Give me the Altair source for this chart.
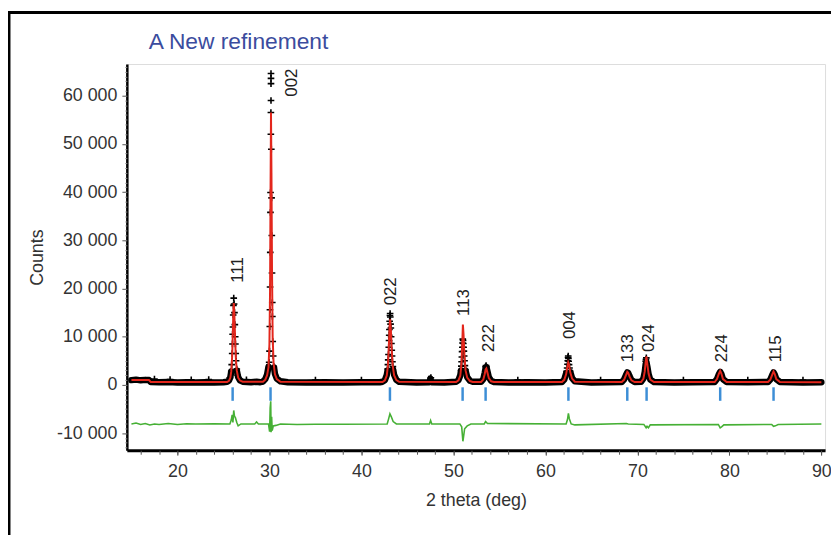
import altair as alt
import pandas as pd

FONT = "Liberation Sans"

# ---------------- data ----------------
# calculated profile (red line): (2theta, counts)
calc_points = [
    (15.0, 1000), (16.9, 1000), (17.1, 600), (25.4, 600), (25.6, 850), (25.75, 1500), (25.85, 2800), (25.95, 6000),
    (26.03, 11500), (26.09, 16000), (26.13, 17000), (26.19, 14500), (26.27, 9500), (26.35, 5500), (26.45, 3000),
    (26.6, 1500), (26.8, 900), (27.1, 650),
    (29.3, 650), (29.55, 1100), (29.75, 2000), (29.9, 3700), (30.0, 8500), (30.07, 20000), (30.12, 40000),
    (30.17, 56500), (30.22, 44000), (30.28, 24000), (30.35, 10000), (30.45, 4500), (30.6, 2200), (30.8, 1200), (31.2, 650),
    (42.3, 600), (42.55, 950), (42.75, 1900), (42.88, 4000), (42.98, 8000), (43.06, 12000), (43.12, 13600),
    (43.2, 11500), (43.3, 7000), (43.4, 4000), (43.55, 2000), (43.8, 1000), (44.1, 650),
    (50.3, 600), (50.55, 950), (50.75, 1900), (50.88, 4500), (50.97, 9000), (51.03, 12500), (51.1, 10500),
    (51.2, 6000), (51.32, 3000), (51.5, 1500), (51.8, 800), (52.1, 600),
    (53.0, 600), (53.25, 1100), (53.4, 2200), (53.5, 3200), (53.58, 3400), (53.68, 2700), (53.85, 1400), (54.1, 750), (54.4, 600),
    (61.8, 600), (62.05, 1050), (62.25, 2200), (62.38, 3700), (62.48, 4700), (62.56, 4300), (62.7, 2600), (62.9, 1300), (63.2, 650),
    (68.3, 600), (68.55, 1050), (68.75, 2000), (68.9, 2700), (69.0, 2500), (69.15, 1700), (69.35, 950), (69.7, 600),
    (70.4, 600), (70.65, 1250), (70.8, 2800), (70.9, 4800), (70.98, 5900), (71.08, 4300), (71.22, 2300), (71.4, 1100), (71.8, 600),
    (78.4, 600), (78.65, 1200), (78.85, 2300), (79.0, 2900), (79.12, 2400), (79.3, 1200), (79.7, 600),
    (84.2, 600), (84.45, 1100), (84.65, 2100), (84.8, 2800), (84.92, 2300), (85.1, 1200), (85.5, 600), (90.0, 550),
]

# observed profile, low part (thick black band); it breaks at the tall peaks
band_points = [
    (15.0, 1000), (15.5, 1100), (16.0, 950), (16.5, 1050), (16.9, 1000), (17.1, 600), (18.0, 550), (19.0, 600),
    (20.0, 500), (21.0, 550), (22.0, 500), (23.0, 550), (24.0, 500), (25.0, 550), (25.4, 650), (25.6, 900),
    (25.75, 1600), (25.85, 2800),
    (26.45, 3000), (26.6, 1600), (26.8, 950), (27.1, 650), (28.0, 550), (28.6, 650), (29.0, 550), (29.3, 700),
    (29.55, 1200), (29.75, 2200), (29.9, 3800),
    (30.5, 3600), (30.6, 2300), (30.8, 1300), (31.2, 750), (32.0, 550), (34.0, 500), (36.0, 550), (38.0, 500),
    (40.0, 550), (42.0, 550), (42.3, 650), (42.55, 1000), (42.75, 2000), (42.84, 3000),
    (43.45, 3200), (43.55, 2100), (43.8, 1050), (44.1, 650), (46.0, 500), (47.4, 550), (47.5, 1300), (47.6, 550),
    (49.0, 500), (50.3, 650), (50.55, 1000), (50.75, 2000), (50.83, 3000),
    (51.32, 3000), (51.5, 1600), (51.8, 850), (52.1, 650), (53.0, 650), (53.25, 1200), (53.4, 2500), (53.5, 3500),
    (53.58, 3700), (53.68, 3000), (53.85, 1600), (54.1, 850), (54.4, 600), (56.0, 500), (58.0, 550), (60.0, 500),
    (61.8, 600), (62.05, 1100), (62.25, 2400),
    (62.72, 2600), (62.9, 1400), (63.2, 750), (65.0, 500), (68.3, 600), (68.55, 1100), (68.75, 2000), (68.9, 2600),
    (69.0, 2500), (69.15, 1800), (69.35, 1000), (69.7, 600), (70.4, 650), (70.65, 1300), (70.8, 2700), (70.9, 4300),
    (70.98, 4800), (71.08, 3800), (71.22, 2200), (71.4, 1100), (71.8, 600), (74.0, 500), (76.0, 550), (78.4, 600),
    (78.65, 1200), (78.85, 2200), (79.0, 2700), (79.12, 2300), (79.3, 1200), (79.7, 600), (82.0, 550), (84.2, 600),
    (84.45, 1100), (84.65, 2000), (84.8, 2600), (84.92, 2200), (85.1, 1200), (85.5, 600), (88.0, 500), (90.0, 550),
]
band_breaks = [26.0, 30.2, 43.1, 51.0, 62.5]   # the band is interrupted across these peaks

# observed points in the peaks ("+" markers)
obs_points = [
    # 111
    (25.7, 1500), (25.85, 2800), (25.9, 4200), (25.95, 6500), (25.98, 8500), (26.0, 10500), (26.03, 12000),
    (26.06, 14500), (26.09, 16500), (26.12, 18000), (26.16, 16800), (26.2, 15000), (26.24, 12500), (26.28, 10000),
    (26.3, 8500), (26.34, 6500), (26.38, 5000), (26.45, 3300), (26.55, 2000),
    # 002
    (30.17, 64600), (30.17, 63600), (30.17, 62500), (30.17, 59000), (30.16, 56500), (30.155, 52000), (30.12, 39900),
    (30.11, 35800), (30.09, 27500), (30.07, 20300), (30.055, 15600), (30.04, 12100), (30.01, 7000), (29.97, 4700),
    (30.205, 48900), (30.235, 38800), (30.26, 31000), (30.28, 23200), (30.31, 17100), (30.32, 14200), (30.36, 9000),
    (30.41, 6000), (30.47, 3800),
    # 022
    (43.12, 14800), (43.1, 14400), (43.14, 14100), (43.07, 13200), (43.17, 12600), (43.04, 11500), (43.2, 11800),
    (43.02, 10300), (43.23, 10000), (43.0, 9200), (43.26, 8600), (42.97, 7800), (43.3, 7200), (42.94, 6300),
    (43.33, 6000), (42.91, 5200), (43.37, 4800), (42.88, 4200), (43.42, 3800), (42.84, 3300),
    # 113
    (51.02, 9500), (51.05, 9200), (50.99, 8700), (51.08, 8600), (50.97, 7800), (51.11, 7800), (50.94, 6900),
    (51.14, 7000), (50.92, 5800), (51.17, 6000), (50.89, 4800), (51.21, 5000), (50.86, 3900), (51.25, 4000),
    (50.83, 3000), (51.3, 3200),
    # 222
    (53.5, 3800), (53.55, 4000), (53.6, 3700),
    # 004
    (62.48, 6000), (62.46, 5700), (62.5, 5500), (62.43, 5000), (62.53, 4900), (62.4, 4300), (62.57, 4200),
    (62.36, 3500), (62.62, 3500), (62.3, 2800), (62.68, 2900),
    # 024
    (70.9, 4900), (70.93, 5300), (70.97, 5600),
    # background scatter
    (17.5, 1200), (19.2, 1100), (21.5, 1050), (23.4, 1100), (27.5, 1050), (35.0, 1000), (40.0, 1000),
    (47.55, 1500), (57.0, 1000), (66.0, 1000), (75.0, 1000), (82.0, 1000), (88.0, 1000),
]

# difference curve (green)
diff_points = [
    (15.0, -8100), (15.5, -7900), (16.0, -8200), (16.5, -8000), (17.0, -8300), (17.5, -8100), (18.0, -8200),
    (19.0, -8000), (20.0, -8200), (21.0, -8050), (22.0, -8100), (24.0, -8050), (25.7, -8100), (25.85, -7300),
    (25.95, -6200), (26.03, -7800), (26.12, -5300), (26.2, -6500), (26.3, -6800), (26.45, -7800), (26.6, -8500),
    (26.9, -8100), (28.4, -8100), (28.6, -7700), (28.8, -8100), (29.9, -8100), (30.02, -9700), (30.08, -4800),
    (30.14, -3400), (30.18, -9800), (30.24, -6600), (30.3, -9500), (30.42, -8500), (30.7, -8400), (31.2, -8100),
    (33.0, -8200), (35.0, -8150), (38.0, -8150), (42.8, -8100), (42.95, -7100), (43.1, -6000), (43.25, -6600),
    (43.45, -7600), (43.8, -8100), (47.4, -8100), (47.52, -7400), (47.65, -8100), (50.7, -8100), (50.9, -8700),
    (51.03, -11700), (51.1, -10800), (51.22, -9100), (51.5, -8500), (51.9, -8100), (53.35, -8100), (53.5, -7600),
    (53.7, -8000), (62.25, -8100), (62.4, -7200), (62.5, -5900), (62.6, -7000), (62.8, -8100), (63.2, -8300),
    (68.8, -8000), (69.0, -8100), (70.7, -8200), (70.95, -8900), (71.05, -8600), (71.2, -8900), (71.4, -8300),
    (78.8, -8200), (79.0, -8900), (79.15, -8700), (79.4, -8300), (84.6, -8200), (84.8, -8600), (85.0, -8500),
    (85.3, -8200), (90.0, -8100),
]

# reflections
hkl = ["111", "002", "022", "113", "222", "004", "133", "024", "224", "115"]
bragg_theta = [26.0, 30.12, 43.1, 51.0, 53.5, 62.5, 68.9, 71.0, 79.0, 84.8]
label_theta = [26.6, 32.5, 43.25, 51.2, 53.9, 62.7, 68.95, 71.3, 79.2, 85.1]
label_counts = [21200, 59800, 16500, 14300, 6800, 9500, 4700, 6800, 4700, 4700]
TICK_TOP, TICK_BOTTOM = -500, -3300

X_DOMAIN = [14.5, 90.4]
Y_DOMAIN = [-13560, 66570]
x_major = list(range(20, 91, 10))
x_minor = list(range(16, 91, 2))
y_major = list(range(-10000, 60001, 10000))
y_minor = list(range(-13000, 66001, 1000))

# ---------------- tables ----------------
calc_df = pd.DataFrame(calc_points, columns=["theta", "counts"])
band_df = pd.DataFrame(band_points, columns=["theta", "counts"])
band_df["seg"] = [sum(t > b for b in band_breaks) for t in band_df["theta"]]
obs_df = pd.DataFrame(obs_points, columns=["theta", "counts"])
diff_df = pd.DataFrame(diff_points, columns=["theta", "counts"])
bragg_df = pd.DataFrame({"theta": bragg_theta})
label_df = pd.DataFrame({"hkl": hkl, "theta": label_theta, "counts": label_counts})
one = pd.DataFrame({"a": [0]})

xs = alt.Scale(domain=X_DOMAIN, nice=False, zero=False)
ys = alt.Scale(domain=Y_DOMAIN, nice=False, zero=False)

txt = dict(labelFont=FONT, labelFontSize=18, labelColor="#333",
           titleFont=FONT, titleFontSize=18, titleFontWeight="normal", titleColor="#333")

x_axis = alt.Axis(values=x_major, title="2 theta (deg)", grid=False, orient="bottom",
                  tickSize=5, tickColor="#555", tickWidth=1, domainColor="black", domainWidth=3,
                  labelPadding=8, titlePadding=11, labelFlush=False, **txt)
y_axis = alt.Axis(values=y_major, title="Counts", grid=False, orient="left",
                  labelExpr="replace(replace(format(datum.value, ','), ',', ' '), '\u2212', '-')",
                  tickSize=5, tickColor="#555", tickWidth=1, domainColor="black", domainWidth=2.5,
                  labelPadding=5, titlePadding=10, labelFlush=False, **txt)
x_minor_axis = alt.Axis(values=x_minor, title="", grid=False, orient="bottom", labels=False, domain=False,
                        tickSize=4, tickColor="#555", tickWidth=1)
y_minor_axis = alt.Axis(values=y_minor, title="", grid=False, orient="left", labels=False, domain=False,
                        tickSize=2, tickColor="#888", tickWidth=1)

Xn = alt.X("theta:Q", scale=xs, axis=None)
Yn = alt.Y("counts:Q", scale=ys, axis=None)

band = alt.Chart(band_df).mark_line(color="black", strokeWidth=6.5, strokeJoin="round", strokeCap="round").encode(
    x=alt.X("theta:Q", scale=xs, axis=x_axis), y=alt.Y("counts:Q", scale=ys, axis=y_axis), detail="seg:N")
crosses = alt.Chart(obs_df).mark_point(
    shape="M-1,0L1,0M0,-1L0,1", filled=False, color="black", strokeWidth=1.6, size=45, opacity=1
).encode(x=alt.X("theta:Q", scale=xs, axis=x_minor_axis), y=alt.Y("counts:Q", scale=ys, axis=y_minor_axis))
calc = alt.Chart(calc_df).mark_line(color="#e3261c", strokeWidth=2).encode(x=Xn, y=Yn)
diff = alt.Chart(diff_df).mark_line(color="#46b035", strokeWidth=1.6).encode(x=Xn, y=Yn)
bragg = alt.Chart(bragg_df).mark_rule(color="#3d8ed6", strokeWidth=2.5).encode(
    x=Xn, y=alt.datum(TICK_TOP, scale=ys, axis=None), y2=alt.datum(TICK_BOTTOM))
labels = alt.Chart(label_df).mark_text(
    angle=270, align="left", baseline="middle", font=FONT, fontSize=17, color="#222"
).encode(x=Xn, y=Yn, text="hkl:N")

title = alt.Chart(one).mark_text(
    text="A New refinement", align="left", baseline="alphabetic", font=FONT, fontSize=23, color="#3b4c9e"
).encode(x=alt.value(22), y=alt.value(-15))
frame_top = alt.Chart(one).mark_rule(color="black", strokeWidth=3).encode(
    x=alt.value(-121), x2=alt.value(715), y=alt.value(-52))
frame_left = alt.Chart(one).mark_rule(color="black", strokeWidth=3).encode(
    x=alt.value(-119), y=alt.value(-53), y2=alt.value(600))

chart = alt.layer(band, crosses, calc, diff, bragg, labels, title, frame_top, frame_left).resolve_axis(
    x="independent", y="independent"
).properties(
    width=705, height=390,
    autosize=alt.AutoSizeParams(type="none"),
    padding={"left": 120, "top": 54, "right": 6, "bottom": 83},
).configure_view(stroke="#777", strokeWidth=2).configure(background="white")

chart.save("out.html", embed_options={"renderer": "svg", "actions": False})
